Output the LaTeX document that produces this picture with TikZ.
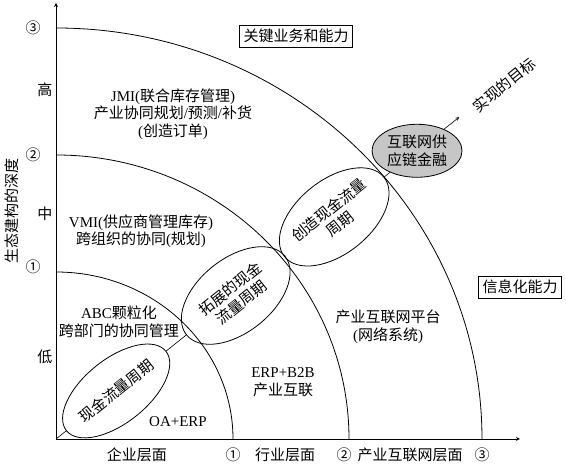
\documentclass[tikz,border=0pt]{standalone}
\usepackage{fontspec}
\setmainfont{Liberation Serif}
\newfontfamily\cjk{Noto Sans CJK SC}
\usetikzlibrary{shapes.geometric}

\begin{document}
\begin{tikzpicture}[x=1pt,y=1pt,
	font=\fontsize{15}{17.5}\selectfont,
	zh/.style={font=\fontsize{15}{17.5}\selectfont\cjk},
	txt/.style={align=center, inner sep=1pt},
	cyc/.style={draw, ellipse, align=center, inner sep=0pt, rotate=\ang, line width=0.8pt},
	tag/.style={draw, inner sep=4pt, line width=0.8pt}]
	\pgfmathsetmacro{\ang}{38.6};
	\useasboundingbox (-56,-26) rectangle (510,439);
%
	% axes
	\coordinate (o) at (0,0);
	\coordinate (xEnd) at (464,0);
	\coordinate (yEnd) at (0,436);
	\draw[-stealth, line width=0.8pt] (o) -- (xEnd);
	\draw[-stealth, line width=0.8pt] (o) -- (yEnd);
	% the three layers
	\draw[line width=0.8pt] (177,0) arc[start angle=0, end angle=90, x radius=177, y radius=167];
	\draw[line width=0.8pt] (293,0) arc[start angle=0, end angle=90, x radius=293, y radius=284];
	\draw[line width=0.8pt] (426,0) arc[start angle=0, end angle=90, x radius=426, y radius=411];
%
	% levels on the vertical axis
	\node[zh] (n3) at (-23,411) {③};
	\node[zh] (n2) at (-23,284) {②};
	\node[zh] (n1) at (-23,172) {①};
	\node[zh] (high) at (-11,349) {高};
	\node[zh] (mid) at (-11,225) {中};
	\node[zh] (low) at (-11,82) {低};
	\node[zh, rotate=90] (depth) at (-44,228) {生态建构的深度};
	% levels on the horizontal axis
	\node[zh] (firm) at (81,-16) {企业层面};
	\node[zh] (m1) at (177,-16) {①};
	\node[zh] (trade) at (229,-16) {行业层面};
	\node[zh] (m2) at (288,-16) {②};
	\node[zh] (net) at (354,-16) {产业互联网层面};
	\node[zh] (m3) at (426,-16) {③};
%
	% what each layer holds
	\node[txt] (jmi) at (117,325) {JMI({\cjk 联合库存管理})\\{\cjk 产业协同规划}/{\cjk 预测}/{\cjk 补货}\\({\cjk 创造订单})};
	\node[txt] (vmi) at (85,208) {VMI({\cjk 供应商管理库存})\\{\cjk 跨组织的协同}({\cjk 规划})};
	\node[txt] (abc) at (63,117) {ABC{\cjk 颗粒化}\\{\cjk 跨部门的协同管理}};
	\node[txt] (oa) at (122,17) {OA+ERP};
	\node[txt] (b2b) at (227,57) {ERP+B2B\\{\cjk 产业互联}};
	\node[txt] (plat) at (332,112) {{\cjk 产业互联网平台}\\({\cjk 网络系统})};
	\node[tag, zh] (key) at (240,403) {关键业务和能力};
	\node[tag, zh] (info) at (464,152) {信息化能力};
%
	% the cycles along the diagonal
	\node[cyc, zh, minimum width=114pt, minimum height=64pt] (c1) at (\ang:77) {现金流量周期};
	\node[cyc, zh, minimum width=126pt, minimum height=74pt] (c2) at (\ang:230) {拓展的现金\\流量周期};
	\node[cyc, zh, minimum width=126pt, minimum height=74pt] (c3) at (\ang:356) {创造现金流量\\周期};
	\node[draw, ellipse, zh, fill=gray!45, align=center, inner sep=0pt, line width=0.8pt,
		minimum width=90pt, minimum height=53pt] (c4) at (\ang:462) {互联网供\\应链金融};
	\coordinate (goalEnd) at (\ang:516);
	\node[zh, rotate=39] (goal) at (448,354) {实现的目标};
%
	\draw[line width=0.6pt] (o) -- (c1);
	\draw[line width=0.6pt] (c1) -- (c2);
	\draw[line width=0.6pt] (c2) -- (c3);
	\draw[line width=0.6pt] (c3) -- (c4);
	\draw[-stealth, line width=0.6pt] (c4) -- (goalEnd);
\end{tikzpicture}
\end{document}
